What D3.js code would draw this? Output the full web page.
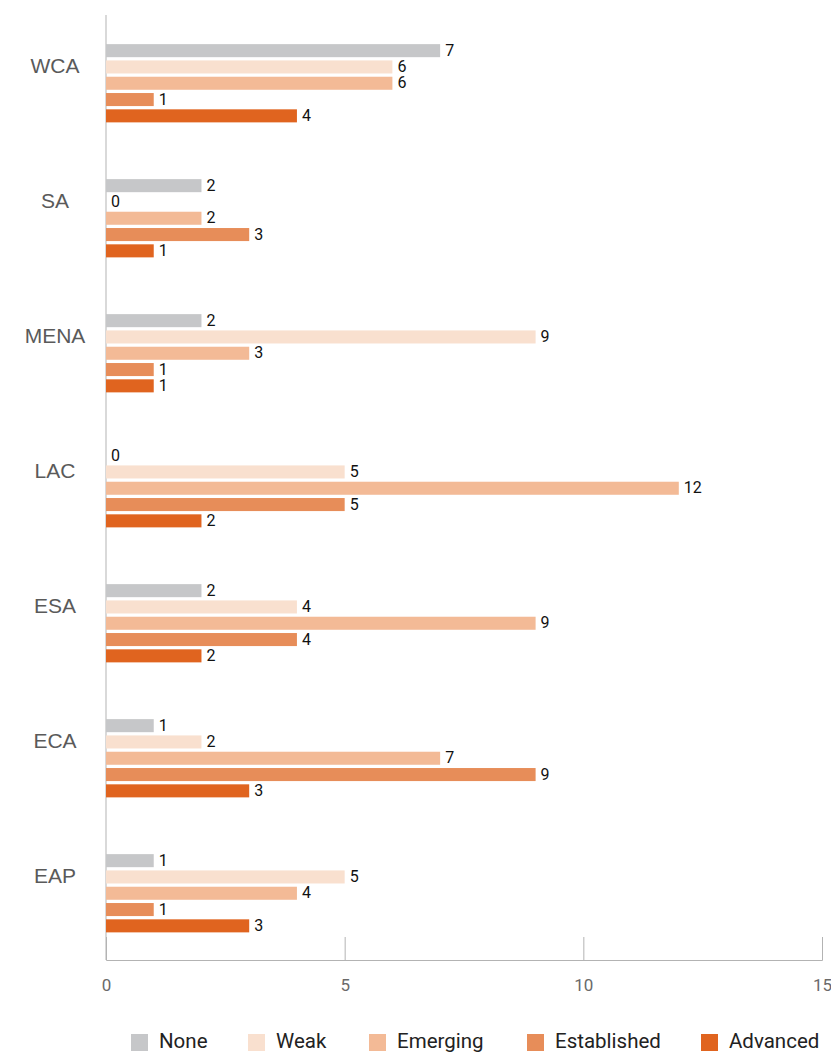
<!DOCTYPE html>
<html>
<head>
<meta charset="utf-8">
<script src="https://cdn.jsdelivr.net/npm/d3@7"></script>
<style>
  body { margin: 0; background: #fff; }
  svg { font-family: Roboto, "Liberation Sans", sans-serif; }
</style>
</head>
<body>
<svg id="chart" width="831" height="1054"></svg>
<script>
// regions, top to bottom
var regions = ["WCA", "SA", "MENA", "LAC", "ESA", "ECA", "EAP"];
var levels = ["None", "Weak", "Emerging", "Established", "Advanced"];
var levelColors = ["#c6c7c9", "#f9e0cf", "#f3ba96", "#e78d59", "#e0641f"];

// counts per level, in region order
var noneVals        = [7, 2, 2, 0, 2, 1, 1];
var weakVals        = [6, 0, 9, 5, 4, 2, 5];
var emergingVals    = [6, 2, 3, 12, 9, 7, 4];
var establishedVals = [1, 3, 1, 5, 4, 9, 1];
var advancedVals    = [4, 1, 1, 2, 2, 3, 3];

var xTicks = [0, 5, 10, 15];

var seriesVals = [noneVals, weakVals, emergingVals, establishedVals, advancedVals];

var svg = d3.select("#chart");
var plotLeft = 106, plotRight = 822, plotTop = 15, plotBottom = 960;

var x = d3.scaleLinear().domain([0, 15]).range([plotLeft, plotRight]);

var y = d3.scaleBand()
    .domain(regions)
    .range([plotTop, plotBottom]);

var yInner = d3.scaleBand()
    .domain(levels)
    .range([27.5, 109])
    .paddingInner(0.2)
    .paddingOuter(0.1);

var color = d3.scaleOrdinal().domain(levels).range(levelColors);

// x axis: baseline + upward ticks
var xAxis = svg.append("g")
    .attr("transform", "translate(0," + plotBottom + ")")
    .call(d3.axisBottom(x).tickValues(xTicks).tickSize(-23).tickPadding(19));
xAxis.select(".domain").attr("stroke", "#b3b3b3");
xAxis.selectAll(".tick line").attr("stroke", "#b3b3b3")
    .attr("display", function(d) { return d === 0 ? "none" : null; });
xAxis.selectAll(".tick text")
    .attr("fill", "#6a6a6a")
    .style("font-size", "17px")
    .style("font-family", "Roboto, sans-serif");

// y axis line
svg.append("line")
    .attr("x1", plotLeft).attr("x2", plotLeft)
    .attr("y1", plotTop).attr("y2", plotBottom)
    .attr("stroke", "#b3b3b3");

// region labels (sit a bit above the middle of each group)
svg.append("g").selectAll("text")
    .data(regions)
    .enter().append("text")
    .attr("x", 55)
    .attr("y", function(d) { return y(d) + y.bandwidth() / 2 - 15; })
    .attr("text-anchor", "middle")
    .attr("dominant-baseline", "middle")
    .attr("fill", "#5a5a5a")
    .style("font-family", "'Liberation Sans', Arial, sans-serif")
    .style("font-size", "21px")
    .text(function(d) { return d; });

// bars
var groups = svg.append("g").selectAll("g")
    .data(regions)
    .enter().append("g")
    .attr("transform", function(d) { return "translate(0," + y(d) + ")"; });

var cells = groups.selectAll("g")
    .data(function(r, i) {
        return levels.map(function(l, j) { return { level: l, value: seriesVals[j][i] }; });
    })
    .enter().append("g");

cells.append("rect")
    .attr("x", x(0))
    .attr("y", function(d) { return yInner(d.level); })
    .attr("width", function(d) { return x(d.value) - x(0); })
    .attr("height", yInner.bandwidth())
    .attr("fill", function(d) { return color(d.level); });

cells.append("text")
    .attr("x", function(d) { return x(d.value) + 5; })
    .attr("y", function(d) { return yInner(d.level) + yInner.bandwidth() / 2 + 1; })
    .attr("dominant-baseline", "middle")
    .attr("fill", "#111")
    .style("font-size", "16px")
    .text(function(d) { return d.value; });

// legend
var legendX = [131, 248, 369, 527, 701];
var legend = svg.append("g").selectAll("g")
    .data(levels)
    .enter().append("g")
    .attr("transform", function(d, i) { return "translate(" + legendX[i] + ",1034)"; });

legend.append("rect")
    .attr("width", 17).attr("height", 17)
    .attr("fill", function(d) { return color(d); });

legend.append("text")
    .attr("x", 28)
    .attr("y", 9)
    .attr("dominant-baseline", "middle")
    .attr("fill", "#222")
    .style("font-size", "20.5px")
    .text(function(d) { return d; });
</script>
</body>
</html>
